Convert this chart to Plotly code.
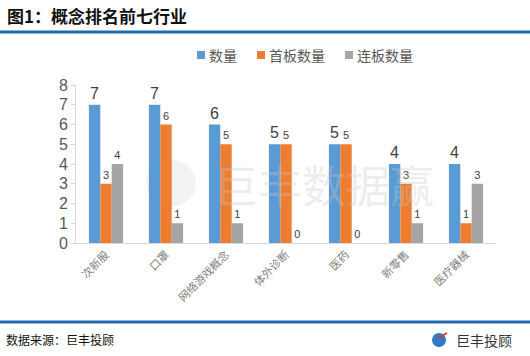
import plotly.graph_objects as go

categories = ["次新股", "口罩", "网络游戏概念", "体外诊断", "医药", "新零售", "医疗器械"]
total_count = [7, 7, 6, 5, 5, 4, 4]
first_board = [3, 6, 5, 5, 5, 3, 1]
consecutive_board = [4, 1, 1, 0, 0, 1, 3]
y_ticks = [0, 1, 2, 3, 4, 5, 6, 7, 8]
series_names = ["数量", "首板数量", "连板数量"]
series_colors = ["#5B9BD5", "#ED7D31", "#A5A5A5"]

W, H = 530, 356
L, R, T, B = 76, 34, 85, 113
PW, PH = W - L - R, H - T - B


def px(x):
    return (x - L) / PW


def py(y):
    return 1 - (y - T) / PH


FONT = "Noto Sans CJK SC, Microsoft YaHei, sans-serif"

fig = go.Figure()
label_sizes = [16, 11, 11]
for name, vals, color, fs in zip(series_names, [total_count, first_board, consecutive_board],
                                 series_colors, label_sizes):
    fig.add_trace(go.Bar(name=name, x=categories, y=vals, marker_color=color,
                         text=vals, textposition="outside", showlegend=False,
                         textfont=dict(size=fs, color="#404040", family="Liberation Sans")))
fig.update_traces(cliponaxis=False, marker_line_width=0)

shapes = [
    dict(type="line", xref="paper", yref="paper", x0=px(0), x1=px(W), y0=py(32), y1=py(32),
         line=dict(color="#1F6AAE", width=3)),
    dict(type="line", xref="paper", yref="paper", x0=px(0), x1=px(W), y0=py(322), y1=py(322),
         line=dict(color="#1F6AAE", width=3)),
    # watermark logo circle
    dict(type="circle", xref="paper", yref="paper", x0=px(146), x1=px(196), y0=py(207), y1=py(160),
         fillcolor="rgba(200,200,200,0.22)", line=dict(width=0), layer="below"),
    # footer logo
    dict(type="circle", xref="paper", yref="paper", x0=px(432), x1=px(446), y0=py(347), y1=py(333),
         fillcolor="#2E7BC4", line=dict(width=0)),
    dict(type="line", xref="paper", yref="paper", x0=px(438), x1=px(447), y0=py(338), y1=py(333),
         line=dict(color="#E0312B", width=2)),
]

annotations = [
    dict(text="<b>图1：概念排名前七行业</b>", xref="paper", yref="paper", x=px(5), y=py(15),
         xanchor="left", yanchor="middle", showarrow=False,
         font=dict(size=17, color="#111111", family="Noto Sans CJK SC, serif")),
    dict(text="数据来源：巨丰投顾", xref="paper", yref="paper", x=px(4), y=py(339),
         xanchor="left", yanchor="middle", showarrow=False,
         font=dict(size=12, color="#111111", family=FONT)),
    dict(text="巨丰投顾", xref="paper", yref="paper", x=px(454), y=py(340),
         xanchor="left", yanchor="middle", showarrow=False,
         font=dict(size=14, color="#333333", family=FONT)),
    dict(text="巨丰数据赢", xref="paper", yref="paper", x=px(212), y=py(184),
         xanchor="left", yanchor="middle", showarrow=False,
         font=dict(size=44, color="rgba(200,200,200,0.33)", family=FONT)),
]

# legend (manual, to match the compact spacing of the reference)
legend_x = [197, 257, 345]
for name, color, lx in zip(series_names, series_colors, legend_x):
    shapes.append(dict(type="rect", xref="paper", yref="paper", x0=px(lx), x1=px(lx + 8),
                       y0=py(59), y1=py(51), fillcolor=color, line=dict(width=0)))
    annotations.append(dict(text=name, xref="paper", yref="paper", x=px(lx + 10), y=py(55),
                            xanchor="left", yanchor="middle", showarrow=False,
                            font=dict(size=14, color="#595959", family=FONT)))

fig.update_layout(
    width=W, height=H,
    margin=dict(l=L, r=R, t=T, b=B),
    paper_bgcolor="white", plot_bgcolor="white",
    barmode="group", bargap=0.43, bargroupgap=0,
    font=dict(family=FONT, color="#595959"),
    shapes=shapes, annotations=annotations,
    showlegend=False,
    xaxis=dict(showline=True, linecolor="#D9D9D9", linewidth=1, ticks="", tickangle=-45,
               tickfont=dict(size=11, color="#808080", family=FONT), showgrid=False,
               automargin=False),
    yaxis=dict(range=[0, 8], tickvals=y_ticks, showgrid=False, zeroline=False,
               showline=True, linecolor="#D9D9D9", ticks="outside", ticklen=4, tickcolor="#D9D9D9",
               tickfont=dict(size=16, color="#595959", family="Liberation Sans"),
               automargin=False),
)

fig.write_html("out.html", config={"displayModeBar": False},
               post_script="document.body.style.margin='0';")
